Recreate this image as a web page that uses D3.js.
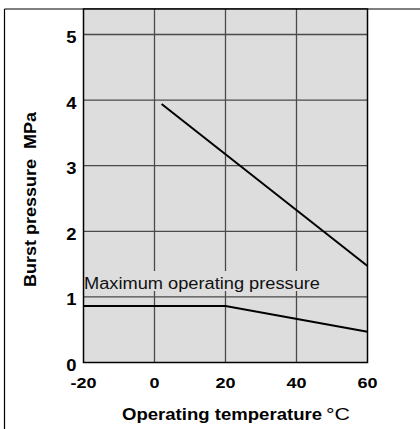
<!DOCTYPE html>
<html><head><meta charset="utf-8">
<script src="https://cdn.jsdelivr.net/npm/d3@7"></script>
<style>body{margin:0;background:#fff}svg{display:block}</style>
</head><body>
<svg id="c" width="420" height="429"></svg>
<script>
const xTicks = [-20, 0, 20, 40, 60];
const yTicks = [0, 1, 2, 3, 4, 5];
const burstTemp = [2, 60];
const burstPressure = [3.94, 1.47];
const maxOpTemp = [-20, 20, 60];
const maxOpPressure = [0.86, 0.86, 0.47];
const maxOpLabel = "Maximum operating pressure";
const xTitle = "Operating temperature";
const xUnit = "°C";
const yTitle = "Burst pressure  MPa";

const svg = d3.select("#c");
const font = "Liberation Sans, Arial, sans-serif";
const L = 83.5, R = 367.5, T = 9, B = 362.5;
const x = d3.scaleLinear().domain([-20, 60]).range([L, R]);
const y = d3.scaleLinear().domain([0, 5]).range([B, 34.5]);

// outer frame
svg.append("line").attr("x1", 4.5).attr("x2", 420).attr("y1", 9).attr("y2", 9).attr("stroke", "#000").attr("stroke-width", 1.2);
svg.append("line").attr("x1", 4.5).attr("x2", 4.5).attr("y1", 9).attr("y2", 429).attr("stroke", "#000").attr("stroke-width", 1.2);

// plot background
svg.append("rect").attr("x", L).attr("y", T).attr("width", R - L).attr("height", B - T).attr("fill", "#dddddd");

const g = svg.append("g");
g.selectAll(".vg").data(xTicks.slice(1, -1)).join("line")
  .attr("x1", d => x(d)).attr("x2", d => x(d)).attr("y1", T).attr("y2", B)
  .attr("stroke", "#4a4a4a").attr("stroke-width", 1.3);
g.selectAll(".hg").data(yTicks.slice(1)).join("line")
  .attr("x1", L).attr("x2", R).attr("y1", d => y(d)).attr("y2", d => y(d))
  .attr("stroke", "#4a4a4a").attr("stroke-width", 1.3);

// label with background
const lbl = svg.append("g");
lbl.append("rect").attr("x", L + 1).attr("y", 271).attr("width", 240).attr("height", 20).attr("fill", "#dddddd");
lbl.append("text").attr("x", 84).attr("y", 289.3).attr("font-family", font)
  .attr("font-size", 16).attr("fill", "#111")
  .attr("textLength", 236).attr("lengthAdjust", "spacingAndGlyphs").text(maxOpLabel);

// plot border
svg.append("rect").attr("x", L).attr("y", T).attr("width", R - L).attr("height", B - T)
  .attr("fill", "none").attr("stroke", "#000").attr("stroke-width", 1.5);

// data lines
const line = d3.line().x(d => x(d[0])).y(d => y(d[1]));
svg.append("path").datum(burstTemp.map((t, i) => [t, burstPressure[i]])).attr("d", line)
  .attr("fill", "none").attr("stroke", "#000").attr("stroke-width", 2);
svg.append("path").datum(maxOpTemp.map((t, i) => [t, maxOpPressure[i]])).attr("d", line)
  .attr("fill", "none").attr("stroke", "#000").attr("stroke-width", 2);

// tick labels
svg.selectAll(".yt").data(yTicks).join("text")
  .attr("transform", d => `translate(76.5,${y(d) + 8.5}) scale(1.15,1)`).attr("text-anchor", "end")
  .attr("font-family", font).attr("font-weight", "bold").attr("font-size", 16).text(d => d);
svg.selectAll(".xt").data(xTicks).join("text")
  .attr("transform", d => `translate(${x(d)},387.5) scale(1.2,1)`).attr("text-anchor", "middle")
  .attr("font-family", font).attr("font-weight", "bold").attr("font-size", 15).text(d => d);

// axis titles
svg.append("text").attr("x", 122).attr("y", 420).attr("font-family", font)
  .attr("font-weight", "bold").attr("font-size", 16.5)
  .attr("textLength", 200).attr("lengthAdjust", "spacingAndGlyphs").text(xTitle);
svg.append("text").attr("x", 326).attr("y", 420).attr("font-family", font)
  .attr("font-size", 16.5).attr("textLength", 24).attr("lengthAdjust", "spacingAndGlyphs").text(xUnit);

svg.append("text").attr("transform", "translate(35.5,287) rotate(-90)")
  .attr("font-family", font).attr("font-weight", "bold").attr("font-size", 16.5)
  .attr("textLength", 175).attr("lengthAdjust", "spacingAndGlyphs")
  .attr("xml:space", "preserve").style("white-space", "pre").text(yTitle);
</script>
</body></html>
